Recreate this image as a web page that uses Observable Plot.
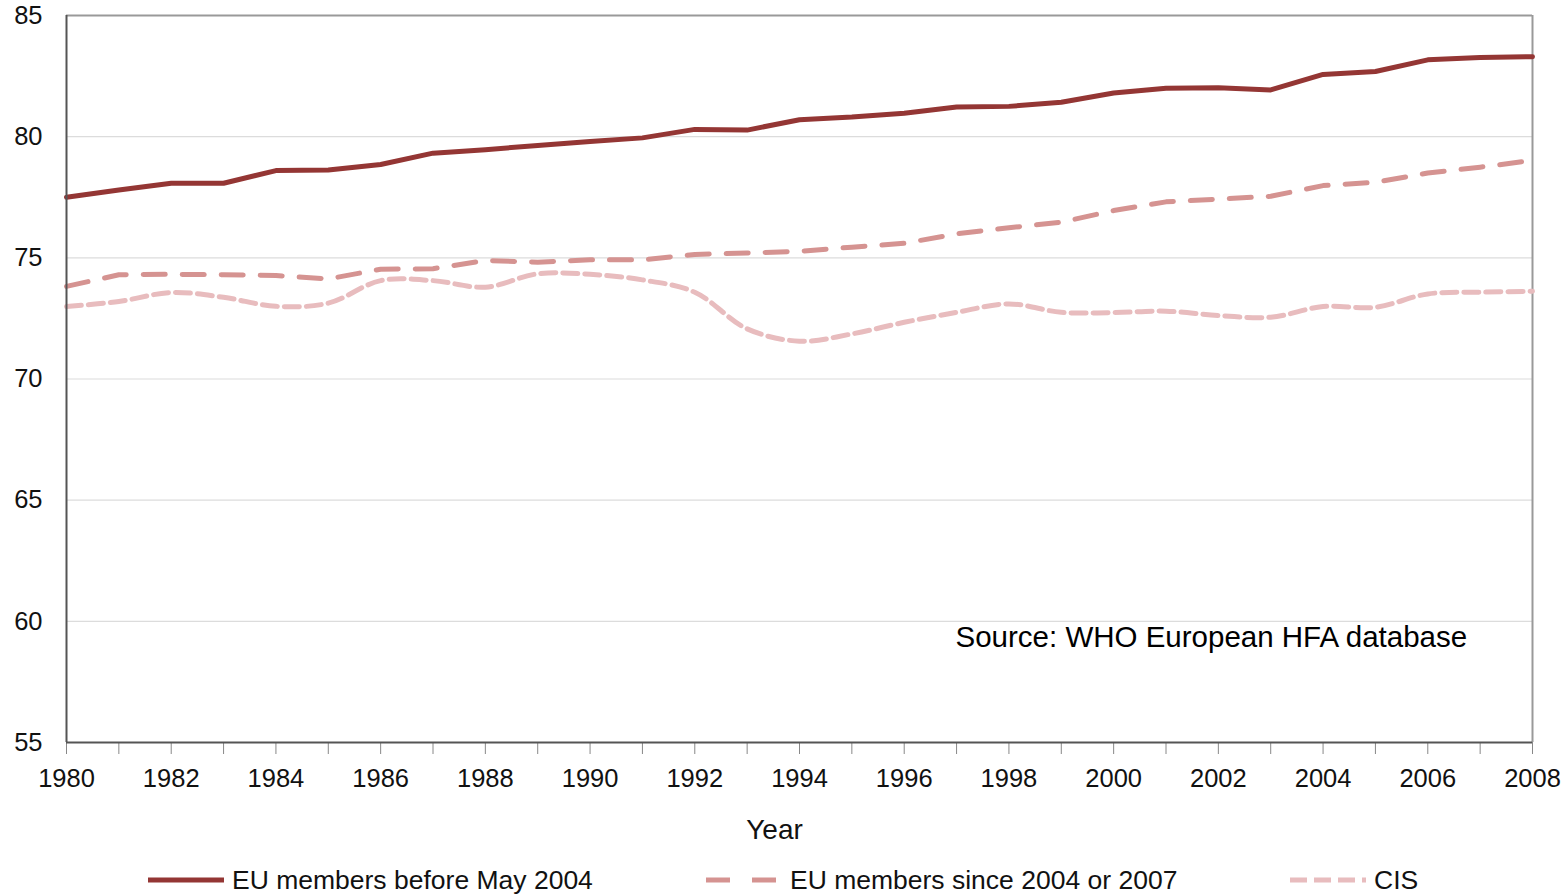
<!DOCTYPE html>
<html>
<head>
<meta charset="utf-8">
<script src="https://cdn.jsdelivr.net/npm/d3@7"></script>
<script src="https://cdn.jsdelivr.net/npm/@observablehq/plot@0.6"></script>
<style>
  html, body { margin: 0; padding: 0; background: #fff; }
  body { width: 1565px; height: 896px; position: relative; overflow: hidden; font-family: "Liberation Sans", Arial, sans-serif; }
  #legend { position: absolute; top: 864px; left: 0; width: 1565px; height: 32px; }
  .item { position: absolute; top: 0; display: flex; align-items: center; height: 32px; font-size: 26.5px; color: #111; }
  .item svg { margin-right: 8px; }
</style>
</head>
<body>
<div id="chart"></div>
<div id="legend"></div>
<script>
const years = d3.range(1980, 2009);
const euBefore2004 = [77.5, 77.8, 78.08, 78.08, 78.6, 78.62, 78.85, 79.32, 79.46, 79.64, 79.8, 79.95, 80.3, 80.27,
  80.7, 80.81, 80.97, 81.22, 81.25, 81.42, 81.8, 82.0, 82.02, 81.93, 82.57, 82.69, 83.17, 83.27, 83.3];
const euSince2004 = [73.82, 74.3, 74.32, 74.3, 74.27, 74.13, 74.53, 74.55, 74.89, 74.82, 74.92, 74.92, 75.14, 75.2,
  75.27, 75.44, 75.6, 75.99, 76.24, 76.47, 76.95, 77.31, 77.42, 77.54, 77.98, 78.12, 78.5, 78.74, 79.02];
const cis = [72.99, 73.2, 73.57, 73.37, 73.0, 73.13, 74.06, 74.06, 73.79, 74.34, 74.32, 74.09, 73.58, 72.07,
  71.56, 71.86, 72.34, 72.75, 73.1, 72.75, 72.74, 72.8, 72.62, 72.55, 72.99, 72.96, 73.51, 73.58, 73.62];
const seriesNames = ["EU members before May 2004", "EU members since 2004 or 2007", "CIS"];
const yTicks = [55, 60, 65, 70, 75, 80, 85];
const xLabel = "Year";
const sourceNote = "Source: WHO European HFA database";
const sourcePos = {year: 1996.98, value: 59.35};

const styles = [
  {color: "#943634", dash: null, width: 5, curve: "linear"},
  {color: "#D59391", dash: "22,17", width: 5, curve: "linear"},
  {color: "#E8BCBE", dash: "15,7", width: 5, curve: "catmull-rom"}
];
const allSeries = [euBefore2004, euSince2004, cis];
const rows = allSeries.map(vals => years.map((y, i) => ({year: y, value: vals[i]})));

const chart = Plot.plot({
  width: 1565,
  height: 860,
  marginLeft: 66,
  marginRight: 33,
  marginTop: 15,
  marginBottom: 118,
  style: {fontFamily: "Liberation Sans, Arial, sans-serif", fontSize: "25px", color: "#111", background: "#fff"},
  x: {domain: [1980, 2008]},
  y: {domain: [55, 85]},
  marks: [
    Plot.ruleY(yTicks.filter(t => t > 55 && t < 85), {stroke: "#dcdcdc", strokeWidth: 1.2}),
    Plot.ruleY([85], {stroke: "#999", strokeWidth: 2}),
    Plot.ruleX([2008], {stroke: "#999", strokeWidth: 2}),
    Plot.axisY({ticks: yTicks, tickSize: 0, tickPadding: 24, fontSize: 25.5, label: null}),
    Plot.axisX({ticks: years, tickSize: 12, tickPadding: 14, fontSize: 25.5, stroke: "#888",
      tickFormat: d => d % 2 === 0 ? String(d) : "", label: null}),
    Plot.text([xLabel], {frameAnchor: "bottom", lineAnchor: "middle", text: d => d, dy: 88, dx: -25, fontSize: 28, fill: "#111"}),
    ...rows.map((r, i) => Plot.line(r, {x: "year", y: "value", stroke: styles[i].color, strokeWidth: styles[i].width,
      strokeDasharray: styles[i].dash, curve: styles[i].curve, strokeLinejoin: "round"})),
    Plot.ruleX([1980], {stroke: "#555", strokeWidth: 2}),
    Plot.ruleY([55], {stroke: "#555", strokeWidth: 2}),
    Plot.text([sourceNote], {x: () => sourcePos.year, y: () => sourcePos.value, text: d => d, textAnchor: "start", fontSize: 29.5, fill: "#000"})
  ]
});
document.getElementById("chart").appendChild(chart);

// Legend
const legendLefts = [148, 706, 1290];
const legend = document.getElementById("legend");
seriesNames.forEach((name, i) => {
  const s = styles[i];
  const item = document.createElement("div");
  item.className = "item";
  item.style.left = legendLefts[i] + "px";
  const sw = 76;
  item.innerHTML = `<svg width="${sw}" height="12"><line x1="0" x2="${sw}" y1="6" y2="6" stroke="${s.color}" stroke-width="5" ${s.dash ? `stroke-dasharray="${i === 1 ? "24,22" : "17,7"}"` : ""}/></svg><span>${name}</span>`;
  legend.appendChild(item);
});
</script>
</body>
</html>
